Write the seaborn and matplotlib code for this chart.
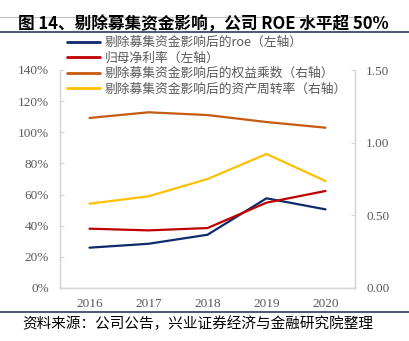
import matplotlib
matplotlib.use("Agg")
import matplotlib.pyplot as plt
import seaborn as sns
import pandas as pd
from matplotlib.lines import Line2D

sns.set_style("white")
plt.rcParams['font.family'] = ['Noto Sans CJK SC', 'DejaVu Sans']

years = ["2016", "2017", "2018", "2019", "2020"]
roe_adj = [0.259, 0.284, 0.342, 0.576, 0.505]        # left axis
net_margin = [0.381, 0.370, 0.385, 0.548, 0.623]     # left axis
equity_mult = [1.170, 1.209, 1.190, 1.142, 1.103]    # right axis
asset_turn = [0.580, 0.631, 0.750, 0.922, 0.736]     # right axis

labels = ["剔除募集资金影响后的roe（左轴）", "归母净利率（左轴）",
          "剔除募集资金影响后的权益乘数（右轴）", "剔除募集资金影响后的资产周转率（右轴）"]
colors = ["#0E2A6B", "#C00000", "#C55A11", "#FFC000"]
left_ticks = [0, 0.2, 0.4, 0.6, 0.8, 1.0, 1.2, 1.4]
right_ticks = [0.0, 0.5, 1.0, 1.5]

W, H = 410, 341
fig = plt.figure(figsize=(W / 100, H / 100), dpi=100)
ax = fig.add_axes([60 / W, 1 - 288 / H, 295 / W, 218 / H])
ax2 = ax.twinx()

df = pd.DataFrame({"year": years, "roe": roe_adj, "npm": net_margin,
                   "em": equity_mult, "at": asset_turn})
lw = 1.6
sns.lineplot(data=df, x="year", y="roe", ax=ax, color=colors[0], lw=lw, sort=False)
sns.lineplot(data=df, x="year", y="npm", ax=ax, color=colors[1], lw=lw, sort=False)
sns.lineplot(data=df, x="year", y="em", ax=ax2, color=colors[2], lw=lw, sort=False)
sns.lineplot(data=df, x="year", y="at", ax=ax2, color=colors[3], lw=lw, sort=False)

ax.set_xlim(-0.5, 4.5)
ax.set_ylim(0, 1.4)
ax2.set_ylim(0, 1.5)
ax.set_yticks(left_ticks)
ax.set_yticklabels([f"{int(round(t * 100))}%" for t in left_ticks])
ax2.set_yticks(right_ticks)
ax2.set_yticklabels([f"{t:.2f}" for t in right_ticks])
for a in (ax, ax2):
    a.set_xlabel("")
    a.set_ylabel("")
    for s in a.spines.values():
        s.set_color("#D9D9D9")
        s.set_linewidth(1.0)
    a.spines['top'].set_visible(False)

ax.tick_params(axis='y', direction='in', length=3, color="#D9D9D9", pad=8,
               labelcolor="#595959", left=True, right=False)
ax2.tick_params(axis='y', direction='in', length=3, color="#D9D9D9", pad=8,
                labelcolor="#595959", right=True, left=False)
ax.tick_params(axis='x', length=0, pad=7, labelcolor="#595959")
for lab in ax.get_yticklabels() + ax2.get_yticklabels() + ax.get_xticklabels():
    lab.set_fontfamily("Liberation Serif")
    lab.set_fontsize(9.5)

handles = [Line2D([0], [0], color=c, lw=2) for c in colors]
fig.legend(handles, labels, loc="upper left", bbox_to_anchor=(67 / W, 1 - 36 / H),
           frameon=False, fontsize=9.2, handlelength=2.6, handletextpad=0.33,
           labelspacing=0.2, borderpad=0, borderaxespad=0, labelcolor="#595959")

# Title and decorative rules
fig.add_artist(Line2D([0, 385 / W], [1 - 17 / H, 1 - 17 / H], color="#BFBFBF", lw=0.8))
fig.add_artist(Line2D([0, 1], [1 - 32 / H, 1 - 32 / H], color="#3A4A6E", lw=1.3))
fig.add_artist(Line2D([0, 1], [1 - 312 / H, 1 - 312 / H], color="#3A4A6E", lw=1.3))
fig.text(18 / W, 1 - 24.5 / H, "图 14、剔除募集资金影响，公司 ROE 水平超 50%",
         ha="left", va="center", fontsize=12, fontweight="bold", color="black",
         family=["Noto Sans CJK SC", "DejaVu Sans"])
fig.text(22 / W, 1 - 324 / H, "资料来源：公司公告，兴业证券经济与金融研究院整理",
         ha="left", va="center", fontsize=10.5, color="black",
         family=["Noto Sans CJK SC", "DejaVu Sans"])

fig.savefig("out.png", dpi=100, facecolor="white")
